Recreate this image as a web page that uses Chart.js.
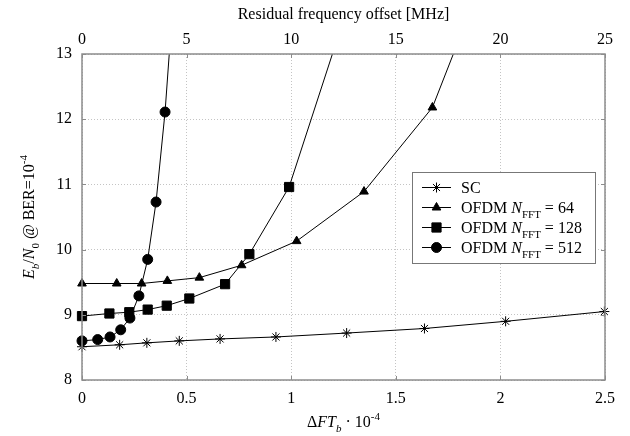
<!DOCTYPE html>
<html>
<head>
<meta charset="utf-8">
<script src="https://cdn.jsdelivr.net/npm/chart.js@4/dist/chart.umd.min.js"></script>
<style>
  html, body { margin: 0; padding: 0; background: #fff; }
  #wrap { position: relative; width: 630px; height: 436px; }
</style>
</head>
<body>
<div id="wrap"><canvas id="c" width="630" height="436"></canvas></div>
<script>
// ---- data ----
const scX      = [0, 0.18, 0.31, 0.465, 0.66, 0.927, 1.265, 1.637, 2.025, 2.497];
const scY      = [8.51, 8.54, 8.57, 8.60, 8.63, 8.66, 8.72, 8.79, 8.90, 9.05];
const ofdm64X  = [0, 0.166, 0.285, 0.408, 0.561, 0.763, 1.026, 1.348, 1.675, 1.775];
const ofdm64Y  = [9.48, 9.48, 9.48, 9.52, 9.57, 9.76, 10.13, 10.89, 12.18, 13.0];
const ofdm128X = [0, 0.131, 0.226, 0.314, 0.405, 0.513, 0.684, 0.80, 0.99, 1.197];
const ofdm128Y = [8.98, 9.02, 9.04, 9.08, 9.14, 9.25, 9.47, 9.93, 10.96, 13.0];
const ofdm512X = [0, 0.075, 0.134, 0.185, 0.229, 0.272, 0.314, 0.354, 0.397, 0.417];
const ofdm512Y = [8.60, 8.62, 8.66, 8.77, 8.95, 9.29, 9.85, 10.73, 12.11, 13.0];

const xTicks   = [0, 0.5, 1, 1.5, 2, 2.5];
const topTicks = [0, 5, 10, 15, 20, 25];
const yTicks   = [8, 9, 10, 11, 12, 13];

const FONT = "'Liberation Serif', 'Times New Roman', serif";
const FRAME = '#8c8c8c';

function pts(xs, ys) { return xs.map((x, i) => ({ x: x, y: ys[i] })); }

const series = [
  { label: 'SC', x: scX, y: scY, style: 'star', r: 5 },
  { label: '64', x: ofdm64X, y: ofdm64Y, style: 'triangle', r: 5 },
  { label: '128', x: ofdm128X, y: ofdm128Y, style: 'rect', r: 6.5 },
  { label: '512', x: ofdm512X, y: ofdm512Y, style: 'circle', r: 5 }
];

const datasets = series.map(s => ({
  label: s.label,
  data: pts(s.x, s.y),
  xAxisID: 'x', yAxisID: 'y',
  borderColor: '#000',
  backgroundColor: '#000',
  borderWidth: 1,
  pointStyle: s.style,
  pointRadius: (c) => { const v = c.raw; return (v && v.y >= 13) ? 0 : s.r; },
  pointBorderWidth: 1,
  pointBorderColor: '#000',
  pointBackgroundColor: '#000',
  tension: 0,
  clip: false
}));

// rich text helper
function fontFor(r, size) {
  const s = (r.sub || r.sup) ? Math.round(size * 0.7) : size;
  return (r.i ? 'italic ' : '') + s + 'px ' + FONT;
}
function runWidth(ctx, runs, size) {
  let w = 0;
  runs.forEach(r => { ctx.font = fontFor(r, size); w += ctx.measureText(r.t).width; });
  return w;
}
function drawRuns(ctx, runs, x, y, size, align) {
  const w = runWidth(ctx, runs, size);
  let cx = align === 'center' ? x - w / 2 : x;
  ctx.textBaseline = 'alphabetic';
  ctx.textAlign = 'left';
  runs.forEach(r => {
    ctx.font = fontFor(r, size);
    let dy = 0;
    if (r.sub) dy = size * 0.3;
    if (r.sup) dy = -size * 0.42;
    ctx.fillText(r.t, cx, y + dy);
    cx += ctx.measureText(r.t).width;
  });
}

const decor = {
  id: 'decor',
  afterDatasetsDraw(chart) {
    const ctx = chart.ctx;
    const a = chart.chartArea;
    const sx = chart.scales.x, sy = chart.scales.y, st = chart.scales.x2;
    ctx.save();
    // inner tick marks
    ctx.strokeStyle = FRAME;
    ctx.lineWidth = 1;
    ctx.beginPath();
    xTicks.forEach(v => {
      const p = Math.round(sx.getPixelForValue(v)) + 0.5;
      ctx.moveTo(p, a.bottom); ctx.lineTo(p, a.bottom - 4);
    });
    topTicks.forEach(v => {
      const p = Math.round(st.getPixelForValue(v)) + 0.5;
      ctx.moveTo(p, a.top); ctx.lineTo(p, a.top + 4);
    });
    yTicks.forEach(v => {
      const p = Math.round(sy.getPixelForValue(v)) + 0.5;
      ctx.moveTo(a.left, p); ctx.lineTo(a.left + 4, p);
      ctx.moveTo(a.right, p); ctx.lineTo(a.right - 4, p);
    });
    ctx.stroke();
    // frame
    ctx.lineWidth = 1.5;
    ctx.strokeRect(a.left, a.top, a.right - a.left, a.bottom - a.top);

    // titles
    ctx.fillStyle = '#000';
    drawRuns(ctx, [{ t: 'Residual frequency offset [MHz]' }], (a.left + a.right) / 2, 18.5, 16, 'center');
    drawRuns(ctx, [{ t: 'Δ' }, { t: 'FT', i: 1 }, { t: 'b', i: 1, sub: 1 }, { t: ' · 10' }, { t: '-4', sup: 1 }],
      (a.left + a.right) / 2, 427, 16, 'center');
    ctx.save();
    ctx.translate(34, (a.top + a.bottom) / 2);
    ctx.rotate(-Math.PI / 2);
    drawRuns(ctx, [{ t: 'E', i: 1 }, { t: 'b', i: 1, sub: 1 }, { t: '/' }, { t: 'N', i: 1 }, { t: '0', sub: 1 },
      { t: ' @ BER=10' }, { t: '-4', sup: 1 }], 0, 0, 16, 'center');
    ctx.restore();

    // legend
    const L = 412, T = 172, R = 595, B = 263;
    ctx.fillStyle = '#fff';
    ctx.fillRect(L, T, R - L, B - T);
    ctx.strokeStyle = '#777';
    ctx.lineWidth = 1;
    ctx.strokeRect(L + 0.5, T + 0.5, R - L, B - T);
    const labels = [
      [{ t: 'SC' }],
      [{ t: 'OFDM ' }, { t: 'N', i: 1 }, { t: 'FFT', sub: 1 }, { t: ' = 64' }],
      [{ t: 'OFDM ' }, { t: 'N', i: 1 }, { t: 'FFT', sub: 1 }, { t: ' = 128' }],
      [{ t: 'OFDM ' }, { t: 'N', i: 1 }, { t: 'FFT', sub: 1 }, { t: ' = 512' }]
    ];
    series.forEach((s, i) => {
      const yy = 187 + i * 20;
      ctx.strokeStyle = '#000';
      ctx.fillStyle = '#000';
      ctx.lineWidth = 1;
      ctx.beginPath();
      ctx.moveTo(422, yy + 0.5); ctx.lineTo(451, yy + 0.5);
      ctx.stroke();
      Chart.helpers.drawPoint(ctx, { pointStyle: s.style, radius: s.r, borderWidth: 1, rotation: 0 }, 436.5, yy + 0.5);
      ctx.fillStyle = '#000';
      drawRuns(ctx, labels[i], 461, yy + 6, 16, 'left');
    });
    ctx.restore();
  }
};

const tickFont = { family: FONT, size: 16 };

new Chart(document.getElementById('c'), {
  type: 'scatter',
  data: { datasets: datasets },
  options: {
    responsive: false,
    animation: false,
    showLine: true,
    layout: { padding: { left: 0, right: 25, top: 0, bottom: 0 } },
    plugins: { legend: { display: false }, tooltip: { enabled: false } },
    scales: {
      x: {
        type: 'linear', position: 'bottom', min: 0, max: 2.5,
        afterBuildTicks: (s) => { s.ticks = xTicks.map(v => ({ value: v })); },
        ticks: { font: tickFont, color: '#000', padding: 9, maxRotation: 0,
                 callback: (v) => String(v) },
        grid: { color: '#c4c4c4', lineWidth: 1, drawTicks: false },
        border: { display: false, dash: [1, 2] },
        afterFit: (s) => { s.height = 56; }
      },
      x2: {
        type: 'linear', position: 'top', min: 0, max: 25,
        afterBuildTicks: (s) => { s.ticks = topTicks.map(v => ({ value: v })); },
        ticks: { font: tickFont, color: '#000', padding: 5, maxRotation: 0 },
        grid: { display: false, drawTicks: false },
        border: { display: false },
        afterFit: (s) => { s.height = 54; }
      },
      y: {
        type: 'linear', position: 'left', min: 8, max: 13,
        afterBuildTicks: (s) => { s.ticks = yTicks.map(v => ({ value: v })); },
        ticks: { font: tickFont, color: '#000', padding: 10 },
        grid: { color: '#c4c4c4', lineWidth: 1, drawTicks: false },
        border: { display: false, dash: [1, 2] },
        afterFit: (s) => { s.width = 82; }
      }
    }
  },
  plugins: [decor]
});
</script>
</body>
</html>
